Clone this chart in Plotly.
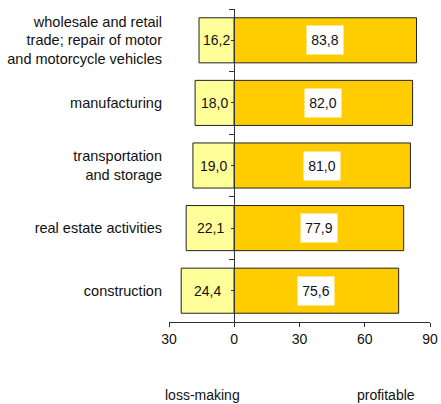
import plotly.graph_objects as go

categories = ["wholesale and retail<br>trade; repair of motor<br>and motorcycle vehicles",
              "manufacturing",
              "transportation<br>and storage",
              "real estate activities",
              "construction"]
loss_making = [16.2, 18.0, 19.0, 22.1, 24.4]
profitable = [83.8, 82.0, 81.0, 77.9, 75.6]
tick_vals = [-30, 0, 30, 60, 90]
tick_text = ["30", "0", "30", "60", "90"]

FONT = "Liberation Sans, Arial, sans-serif"
BAR_W = 0.72

def fmt(v):
    return f"{v:.1f}".replace(".", ",")

fig = go.Figure()
fig.add_trace(go.Bar(
    y=categories, x=[-v for v in loss_making], orientation="h", width=BAR_W,
    marker=dict(color="#FFFF99", line=dict(color="#222222", width=1)),
    yaxis="y", showlegend=False, hoverinfo="skip"))
fig.add_trace(go.Bar(
    y=categories, x=profitable, orientation="h", width=BAR_W,
    marker=dict(color="#FFCC00", line=dict(color="#222222", width=1)),
    yaxis="y2", showlegend=False, hoverinfo="skip"))
# invisible trace carrying the centre ticks on the zero axis
fig.add_trace(go.Scatter(
    y=categories, x=[0] * len(categories), mode="markers",
    marker=dict(opacity=0), yaxis="y3", showlegend=False, hoverinfo="skip"))

annotations = []
for c, v in zip(categories, loss_making):
    annotations.append(dict(x=-v / 2, y=c, xref="x", yref="y", text=fmt(v),
                            showarrow=False, font=dict(family=FONT, size=14, color="#111111")))
for c, v in zip(categories, profitable):
    annotations.append(dict(x=v / 2, y=c, xref="x", yref="y", text=fmt(v),
                            showarrow=False, bgcolor="white", width=34, height=26,
                            font=dict(family=FONT, size=14, color="#111111")))
annotations.append(dict(x=0.13, y=-0.233, xref="paper", yref="paper", text="loss-making",
                        xanchor="center", yanchor="middle",
                        showarrow=False, font=dict(family=FONT, size=14, color="#111111")))
annotations.append(dict(x=0.831, y=-0.233, xref="paper", yref="paper", text="profitable",
                        xanchor="center", yanchor="middle",
                        showarrow=False, font=dict(family=FONT, size=14, color="#111111")))

yrange = [len(categories) - 0.5, -0.5]
common_y = dict(categoryorder="array", categoryarray=categories, range=yrange,
                showgrid=False, zeroline=False, automargin=False, fixedrange=True)
fig.update_layout(
    width=441, height=404,
    margin=dict(l=169, r=11, t=9, b=82),
    paper_bgcolor="white", plot_bgcolor="white",
    barmode="overlay", hovermode=False,
    font=dict(family=FONT, size=14, color="#111111"),
    xaxis=dict(range=[-30, 90], tickvals=tick_vals, ticktext=tick_text,
               showgrid=False, zeroline=False, showline=True, linecolor="#333333",
               linewidth=1, ticks="outside", ticklen=4, tickcolor="#333333",
               domain=[0, 1], tickfont=dict(size=14), automargin=False, fixedrange=True),
    yaxis=dict(**common_y, showline=False, ticks="",
               ticklabelstandoff=6, tickfont=dict(size=14.5)),
    yaxis2=dict(**common_y, overlaying="y", anchor="free", position=0.25, side="left",
                showline=True, linecolor="#333333", linewidth=1,
                ticks="outside", tickson="boundaries", ticklen=5,
                tickcolor="#333333", showticklabels=False),
    yaxis3=dict(**common_y, overlaying="y", anchor="free", position=0.25, side="left",
                showline=False, ticks="outside", ticklen=3,
                tickcolor="#333333", showticklabels=False),
    annotations=annotations,
)
fig.write_html("out.html", config={"displayModeBar": False},
               post_script="document.body.style.margin='0';")
